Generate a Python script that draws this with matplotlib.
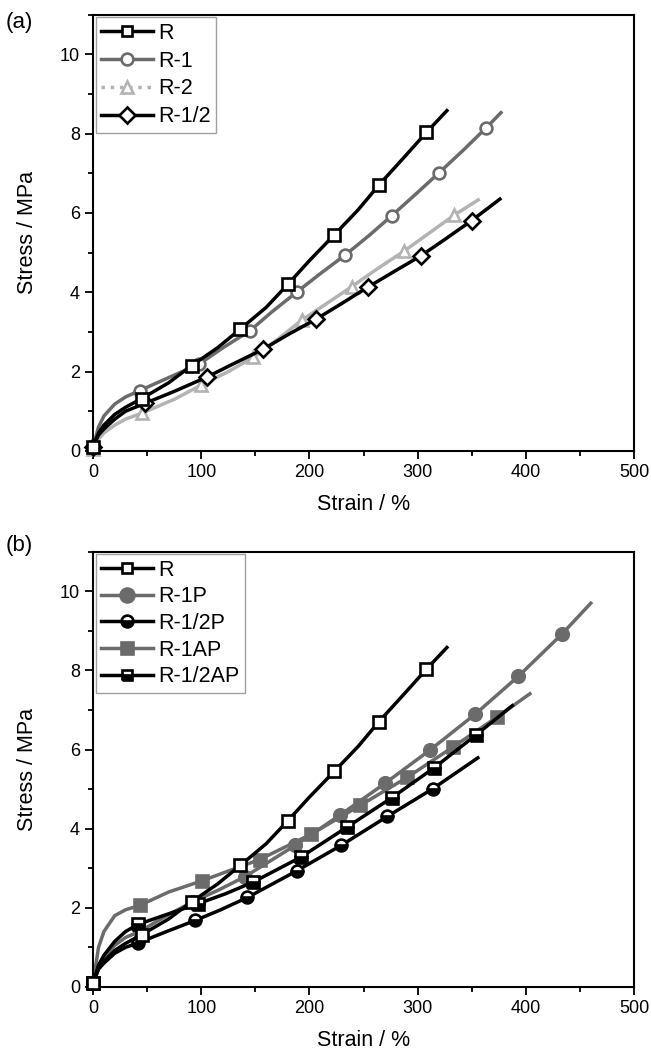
import numpy as np
import matplotlib
matplotlib.use("Agg")
import matplotlib.pyplot as plt
from matplotlib.lines import Line2D
from matplotlib.ticker import MultipleLocator

plt.rcParams['font.family'] = ['Liberation Sans', 'DejaVu Sans']

# ---- panel (a) data: strain (%) / stress (MPa) ----
R_x = [0, 5, 10, 20, 30, 45, 70, 91, 115, 136, 160, 180, 200, 223, 245, 264, 286, 308, 327]
R_y = [0.1, 0.45, 0.65, 0.92, 1.1, 1.32, 1.72, 2.15, 2.6, 3.07, 3.62, 4.2, 4.8, 5.45, 6.08, 6.7, 7.36, 8.03, 8.58]
R_mk = [0, 5, 7, 9, 11, 13, 15, 17]

R1_x = [0, 5, 10, 20, 30, 43, 70, 98, 120, 145, 165, 188, 210, 233, 255, 276, 298, 320, 342, 363, 377]
R1_y = [0.1, 0.6, 0.88, 1.18, 1.36, 1.52, 1.85, 2.19, 2.6, 3.03, 3.5, 4.0, 4.47, 4.94, 5.43, 5.93, 6.47, 7.02, 7.58, 8.14, 8.53]
R1_mk = [0, 5, 7, 9, 11, 13, 15, 17, 19]

R2_x = [0, 5, 10, 20, 30, 45, 75, 100, 125, 148, 170, 193, 215, 239, 262, 287, 310, 334, 356]
R2_y = [0.05, 0.3, 0.45, 0.65, 0.8, 0.95, 1.3, 1.66, 2.0, 2.36, 2.8, 3.3, 3.7, 4.14, 4.58, 5.03, 5.48, 5.95, 6.33]
R2_mk = [0, 5, 7, 9, 11, 13, 15, 17]

Rh_x = [0, 5, 10, 20, 30, 48, 75, 105, 130, 157, 180, 206, 230, 254, 278, 303, 326, 350, 376]
Rh_y = [0.1, 0.4, 0.55, 0.8, 1.0, 1.2, 1.5, 1.86, 2.2, 2.56, 2.93, 3.32, 3.72, 4.13, 4.52, 4.92, 5.35, 5.81, 6.35]
Rh_mk = [0, 5, 7, 9, 11, 13, 15, 17]

# ---- panel (b) data ----
R1P_x = [0, 5, 10, 20, 30, 43, 68, 92, 116, 140, 187, 228, 270, 311, 353, 393, 433, 460]
R1P_y = [0.1, 0.5, 0.75, 1.05, 1.25, 1.4, 1.8, 2.15, 2.45, 2.78, 3.58, 4.34, 5.15, 5.98, 6.89, 7.85, 8.91, 9.7]
R1P_mk = [0, 5, 7, 9, 10, 11, 12, 13, 14, 15, 16]

RhP_x = [0, 5, 10, 20, 30, 41.5, 68, 94.5, 118, 142.6, 188, 229.4, 272, 314, 355.6]
RhP_y = [0.1, 0.45, 0.6, 0.85, 1.0, 1.11, 1.4, 1.68, 1.95, 2.26, 2.93, 3.58, 4.31, 5.01, 5.79]
RhP_mk = [0, 5, 7, 9, 10, 11, 12, 13]

R1AP_x = [0, 5, 10, 20, 30, 43, 70, 100.5, 127, 154, 201.5, 247, 290.5, 332.4, 373.3, 403.7]
R1AP_y = [0.1, 1.0, 1.4, 1.8, 1.95, 2.06, 2.4, 2.68, 2.95, 3.22, 3.86, 4.59, 5.3, 6.06, 6.82, 7.41]
R1AP_mk = [0, 5, 7, 9, 10, 11, 12, 13, 14]

RhAP_x = [0, 5, 10, 20, 30, 41.5, 70, 96.7, 122, 148, 192, 234.7, 276, 315.3, 353.5, 387.5]
RhAP_y = [0.1, 0.55, 0.8, 1.15, 1.4, 1.58, 1.85, 2.1, 2.35, 2.65, 3.28, 4.04, 4.78, 5.54, 6.36, 7.11]
RhAP_mk = [0, 5, 7, 9, 10, 11, 12, 13, 14]

BLACK = '#000000'
GRAY = '#6b6b6b'
LIGHT = '#b3b3b3'
LW = 2.5
MS = 8.5
MEW = 1.9


def style_axes(ax):
    ax.set_xlim(0, 500)
    ax.set_ylim(0, 11)
    ax.xaxis.set_major_locator(MultipleLocator(100))
    ax.xaxis.set_minor_locator(MultipleLocator(50))
    ax.yaxis.set_major_locator(MultipleLocator(2))
    ax.yaxis.set_minor_locator(MultipleLocator(1))
    ax.tick_params(which='both', direction='out', top=False, right=False,
                   labelsize=13, width=1.3)
    ax.tick_params(which='major', length=6)
    ax.tick_params(which='minor', length=3.5)
    for s in ax.spines.values():
        s.set_linewidth(1.5)
    ax.set_xlabel("Strain / %", fontsize=15.5, labelpad=9)
    ax.set_ylabel("Stress / MPa", fontsize=15.5, labelpad=16)


def curve(ax, x, y, mk, color, marker, mfc, ms=MS, mfc_alt=None, fill='full', z=2):
    kw = dict(color=color, lw=LW, marker=marker, markevery=mk, ms=ms,
              mec=color, mew=MEW, mfc=mfc, fillstyle=fill, zorder=z, clip_on=False)
    if mfc_alt is not None:
        kw['markerfacecoloralt'] = mfc_alt
    ax.plot(x, y, **kw)


def add_legend(ax, handles, labels, spacing):
    leg = ax.legend(handles, labels, loc='upper left', fontsize=15.5,
                    handlelength=2.4, handletextpad=0.25, labelspacing=spacing,
                    borderaxespad=0.12, borderpad=0.25, fancybox=False, numpoints=1)
    leg.get_frame().set_edgecolor('#888888')
    leg.get_frame().set_linewidth(1.0)
    leg.set_zorder(10)


fig = plt.figure(figsize=(6.51, 10.51), dpi=100)
ax1 = fig.add_axes([0.143, 0.571, 0.831, 0.415])
ax2 = fig.add_axes([0.143, 0.061, 0.831, 0.414])

# panel (a)
curve(ax1, R2_x, R2_y, R2_mk, LIGHT, '^', 'white', z=2)
curve(ax1, R1_x, R1_y, R1_mk, GRAY, 'o', 'white', z=3)
curve(ax1, Rh_x, Rh_y, Rh_mk, BLACK, 'D', 'white', ms=8, z=4)
curve(ax1, R_x, R_y, R_mk, BLACK, 's', 'white', ms=8, z=5)

h_a = [
    Line2D([], [], color=BLACK, lw=LW, marker='s', ms=7.5, mfc='white', mec=BLACK, mew=MEW),
    Line2D([], [], color=GRAY, lw=LW, marker='o', ms=MS, mfc='white', mec=GRAY, mew=MEW),
    Line2D([], [], color=LIGHT, lw=LW, ls=':', marker='^', ms=MS, mfc='white', mec=LIGHT, mew=MEW),
    Line2D([], [], color=BLACK, lw=LW, marker='D', ms=8, mfc='white', mec=BLACK, mew=MEW),
]
add_legend(ax1, h_a, ["R", "R-1", "R-2", "R-1/2"], 0.32)
style_axes(ax1)

# panel (b)
curve(ax2, R1AP_x, R1AP_y, R1AP_mk, GRAY, 's', GRAY, ms=8, z=2)
curve(ax2, R1P_x, R1P_y, R1P_mk, GRAY, 'o', GRAY, ms=9, z=3)
curve(ax2, RhAP_x, RhAP_y, RhAP_mk, BLACK, 's', BLACK, ms=8, mfc_alt='white', fill='bottom', z=4)
curve(ax2, RhP_x, RhP_y, RhP_mk, BLACK, 'o', BLACK, mfc_alt='white', fill='bottom', z=4)
curve(ax2, R_x, R_y, R_mk, BLACK, 's', 'white', ms=8, z=5)

h_b = [
    Line2D([], [], color=BLACK, lw=LW, marker='s', ms=7.5, mfc='white', mec=BLACK, mew=MEW),
    Line2D([], [], color=GRAY, lw=LW, marker='o', ms=MS + 1.5, mfc=GRAY, mec=GRAY, mew=MEW),
    Line2D([], [], color=BLACK, lw=LW, marker='o', ms=MS, mfc=BLACK, mfcalt='white',
           fillstyle='bottom', mec=BLACK, mew=MEW),
    Line2D([], [], color=GRAY, lw=LW, marker='s', ms=MS, mfc=GRAY, mec=GRAY, mew=MEW),
    Line2D([], [], color=BLACK, lw=LW, marker='s', ms=7.5, mfc=BLACK, mfcalt='white',
           fillstyle='bottom', mec=BLACK, mew=MEW),
]
add_legend(ax2, h_b, ["R", "R-1P", "R-1/2P", "R-1AP", "R-1/2AP"], 0.26)
style_axes(ax2)

fig.text(0.008, 0.979, "(a)", fontsize=16, va='center', ha='left')
fig.text(0.008, 0.481, "(b)", fontsize=16, va='center', ha='left')

fig.savefig("out.png", dpi=100)
